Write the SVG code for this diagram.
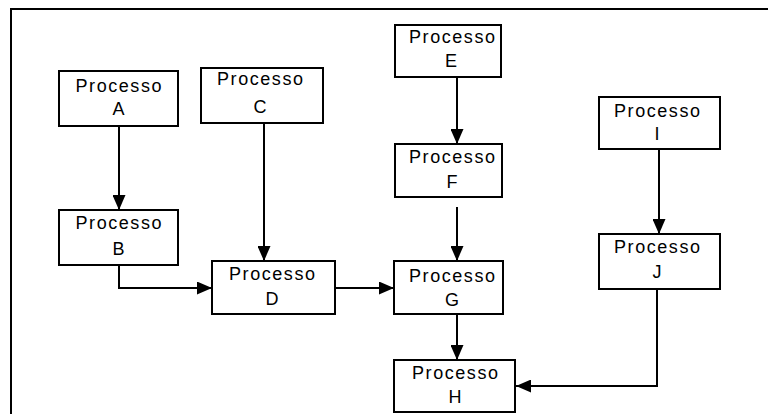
<svg xmlns="http://www.w3.org/2000/svg" width="768" height="414" viewBox="0 0 768 414">
<defs>
<style>
.box{fill:#fff;stroke:#000;stroke-width:2}
.t{font-family:"Liberation Sans",Arial,sans-serif;font-size:18px;fill:#000;text-anchor:middle}
.c{fill:none;stroke:#000;stroke-width:2}
.frame{fill:none;stroke:#000;stroke-width:2}
</style>
<marker id="ah" markerUnits="userSpaceOnUse" markerWidth="15" markerHeight="13" refX="15" refY="6.5" orient="auto">
<path d="M0,0 L15,6.5 L0,13 z" fill="#000"/>
</marker>
</defs>
<rect width="768" height="414" fill="#fff"/>
<path class="frame" d="M11,414 V9 H768"/>
<g id="connectors">
<path class="c" d="M119,126 V210" marker-end="url(#ah)"/>
<path class="c" d="M264,123 V261" marker-end="url(#ah)"/>
<path class="c" d="M457,77 V144" marker-end="url(#ah)"/>
<path class="c" d="M457,207 V261" marker-end="url(#ah)"/>
<path class="c" d="M457,314 V360" marker-end="url(#ah)"/>
<path class="c" d="M119,265 V288 H212" marker-end="url(#ah)"/>
<path class="c" d="M335,288 H394" marker-end="url(#ah)"/>
<path class="c" d="M659,149 V234" marker-end="url(#ah)"/>
<path class="c" d="M657,289 V386 H516" marker-end="url(#ah)"/>
</g>
<g id="A"><rect class="box" x="59" y="71" width="119" height="55"/><text class="t" x="118.5" y="92" textLength="86" lengthAdjust="spacing">Processo</text><text class="t" x="118.5" y="115">A</text></g>
<g id="B"><rect class="box" x="59" y="210" width="119" height="55"/><text class="t" x="118.5" y="229" textLength="86" lengthAdjust="spacing">Processo</text><text class="t" x="118.5" y="255">B</text></g>
<g id="C"><rect class="box" x="201" y="68" width="122" height="55"/><text class="t" x="260" y="85" textLength="86" lengthAdjust="spacing">Processo</text><text class="t" x="260" y="113">C</text></g>
<g id="D"><rect class="box" x="212" y="261" width="123" height="53"/><text class="t" x="272" y="280" textLength="86" lengthAdjust="spacing">Processo</text><text class="t" x="272" y="305">D</text></g>
<g id="E"><rect class="box" x="395" y="25" width="106" height="52"/><text class="t" x="452" y="43" textLength="86" lengthAdjust="spacing">Processo</text><text class="t" x="451" y="67">E</text></g>
<g id="F"><rect class="box" x="395" y="144" width="107" height="53"/><text class="t" x="452" y="163" textLength="86" lengthAdjust="spacing">Processo</text><text class="t" x="452" y="188">F</text></g>
<g id="G"><rect class="box" x="394" y="261" width="109" height="53"/><text class="t" x="452" y="282" textLength="86" lengthAdjust="spacing">Processo</text><text class="t" x="452" y="306">G</text></g>
<g id="H"><rect class="box" x="394" y="360" width="121" height="52"/><text class="t" x="455" y="379" textLength="86" lengthAdjust="spacing">Processo</text><text class="t" x="455" y="403">H</text></g>
<g id="I"><rect class="box" x="599" y="97" width="121" height="52"/><text class="t" x="657" y="117" textLength="86" lengthAdjust="spacing">Processo</text><text class="t" x="657" y="140">I</text></g>
<g id="J"><rect class="box" x="599" y="234" width="121" height="55"/><text class="t" x="657" y="253" textLength="86" lengthAdjust="spacing">Processo</text><text class="t" x="657" y="278">J</text></g>
</svg>
